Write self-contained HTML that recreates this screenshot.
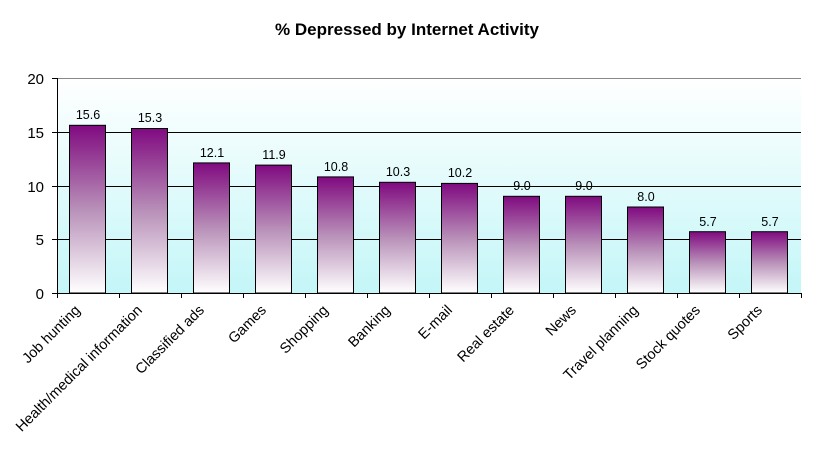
<!DOCTYPE html>
<html><head><meta charset="utf-8"><style>body{margin:0;background:#fff}svg{display:block}text{font-family:"Liberation Sans",Arial,sans-serif}</style></head><body>
<svg width="815" height="455" xmlns="http://www.w3.org/2000/svg">
<defs>
<linearGradient id="bg" x1="0" y1="0" x2="0" y2="1"><stop offset="0" stop-color="#ffffff"/><stop offset="1" stop-color="#c4f6f8"/></linearGradient>
<linearGradient id="bar" x1="0" y1="0" x2="0" y2="1"><stop offset="0" stop-color="#800a80"/><stop offset="0.5" stop-color="#b890b8"/><stop offset="1" stop-color="#ffffff"/></linearGradient>
</defs>
<text x="407" y="35" font-size="17" font-weight="bold" text-anchor="middle">% Depressed by Internet Activity</text>
<rect x="57" y="78" width="744" height="215" fill="url(#bg)"/>
<line x1="57" y1="78.5" x2="801" y2="78.5" stroke="#888"/>
<g stroke="#000" stroke-width="1">
<line x1="57" y1="132.5" x2="801" y2="132.5"/>
<line x1="57" y1="186.5" x2="801" y2="186.5"/>
<line x1="57" y1="239.5" x2="801" y2="239.5"/>
</g>
<g font-size="15" text-anchor="end" fill="#000">
<text x="44" y="84">20</text><text x="44" y="138">15</text><text x="44" y="192">10</text><text x="44" y="245">5</text><text x="44" y="299">0</text>
</g>
<g fill="url(#bar)" stroke="#000" stroke-width="1">
<rect x="69.5" y="125.3" width="36" height="167.7"/>
<rect x="131.5" y="128.5" width="36" height="164.5"/>
<rect x="193.5" y="162.9" width="36" height="130.1"/>
<rect x="255.5" y="165.1" width="36" height="127.9"/>
<rect x="317.5" y="176.9" width="36" height="116.1"/>
<rect x="379.5" y="182.3" width="36" height="110.7"/>
<rect x="441.5" y="183.4" width="36" height="109.6"/>
<rect x="503.5" y="196.3" width="36" height="96.7"/>
<rect x="565.5" y="196.3" width="36" height="96.7"/>
<rect x="627.5" y="207" width="36" height="86"/>
<rect x="689.5" y="231.7" width="36" height="61.3"/>
<rect x="751.5" y="231.7" width="36" height="61.3"/>
</g>
<g font-size="12.5" text-anchor="middle">
<text x="88" y="119">15.6</text><text x="150" y="122">15.3</text><text x="212" y="157">12.1</text><text x="274" y="159">11.9</text><text x="336" y="171">10.8</text><text x="398" y="176">10.3</text><text x="460" y="177">10.2</text><text x="522" y="190">9.0</text><text x="584" y="190">9.0</text><text x="646" y="201">8.0</text><text x="708" y="226">5.7</text><text x="770" y="226">5.7</text>
</g>
<g font-size="14.5" text-anchor="end">
<text transform="translate(81,311) rotate(-45)">Job hunting</text>
<text transform="translate(143,311) rotate(-45)">Health/medical information</text>
<text transform="translate(205,311) rotate(-45)">Classified ads</text>
<text transform="translate(267,311) rotate(-45)">Games</text>
<text transform="translate(329,311) rotate(-45)">Shopping</text>
<text transform="translate(391,311) rotate(-45)">Banking</text>
<text transform="translate(453,311) rotate(-45)">E-mail</text>
<text transform="translate(515,311) rotate(-45)">Real estate</text>
<text transform="translate(577,311) rotate(-45)">News</text>
<text transform="translate(639,311) rotate(-45)">Travel planning</text>
<text transform="translate(701,311) rotate(-45)">Stock quotes</text>
<text transform="translate(763,311) rotate(-45)">Sports</text>
</g>
<g stroke="#000" stroke-width="1">
<line x1="57.5" y1="78" x2="57.5" y2="298"/>
<line x1="52" y1="293.5" x2="801" y2="293.5"/>
<line x1="52" y1="78.5" x2="57" y2="78.5"/><line x1="52" y1="132.5" x2="57" y2="132.5"/><line x1="52" y1="186.5" x2="57" y2="186.5"/><line x1="52" y1="239.5" x2="57" y2="239.5"/>
<line x1="119.5" y1="293" x2="119.5" y2="298"/><line x1="181.5" y1="293" x2="181.5" y2="298"/><line x1="243.5" y1="293" x2="243.5" y2="298"/><line x1="305.5" y1="293" x2="305.5" y2="298"/><line x1="367.5" y1="293" x2="367.5" y2="298"/><line x1="429.5" y1="293" x2="429.5" y2="298"/><line x1="491.5" y1="293" x2="491.5" y2="298"/><line x1="553.5" y1="293" x2="553.5" y2="298"/><line x1="615.5" y1="293" x2="615.5" y2="298"/><line x1="677.5" y1="293" x2="677.5" y2="298"/><line x1="739.5" y1="293" x2="739.5" y2="298"/><line x1="801.5" y1="293" x2="801.5" y2="298"/>
</g>
</svg>
</body></html>
